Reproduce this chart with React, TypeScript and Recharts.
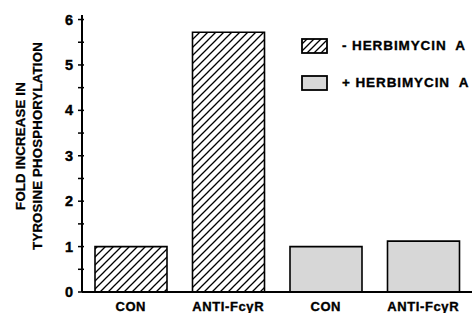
import React from 'react';
import { BarChart, Bar, XAxis, YAxis, Cell } from 'recharts';

const categories = ['CON', 'ANTI-FcγR', 'CON', 'ANTI-FcγR'];
const values = [1.0, 5.72, 1.0, 1.12];
const groupOfBar = [0, 0, 1, 1];
const groupLabels = ['- HERBIMYCIN  A', '+ HERBIMYCIN  A'];
const yTicks = [0, 0.5, 1, 1.5, 2, 2.5, 3, 3.5, 4, 4.5, 5, 5.5, 6];
const yLabelLines = ['FOLD INCREASE IN', 'TYROSINE PHOSPHORYLATION'];

const data = categories.map((c, i) => ({ id: i, name: c, value: values[i], group: groupOfBar[i] }));
const FONT = '"Liberation Sans", Arial, sans-serif';
const fills = ['url(#hatch)', '#d7d7d7'];

const YTick = (props: any) => {
  const { x, y, payload } = props;
  const v = payload.value;
  return (
    <g>
      <line x1={x + 4} x2={x + 10} y1={y} y2={y} stroke="#000" strokeWidth={1.5} />
      {Number.isInteger(v) ? (
        <text x={x - 1} y={y} dy={5} textAnchor="end" fontFamily={FONT} fontWeight="bold" fontSize={14.5}
          stroke="#000" strokeWidth={0.4} fill="#000">{v}</text>
      ) : null}
    </g>
  );
};

const XTick = (props: any) => {
  const { x, y, payload } = props;
  return (
    <text x={x} y={y} dy={11} textAnchor="middle" fontFamily={FONT} fontWeight="bold" fontSize={13}
      letterSpacing={0.6} stroke="#000" strokeWidth={0.35} fill="#000">{categories[payload.value]}</text>
  );
};

const YLabel = () => {
  const cy = 146;
  const xs = [20, 37];
  return (
    <g>
      {yLabelLines.map((t, i) => (
        <text key={i} x={xs[i]} y={cy} transform={`rotate(-90, ${xs[i]}, ${cy})`} textAnchor="middle" dy={4.5}
          fontFamily={FONT} fontWeight="bold" fontSize={13.2} letterSpacing={0.2} stroke="#000" strokeWidth={0.3}
          fill="#000">{t}</text>
      ))}
    </g>
  );
};

const LegendBox = () => (
  <div style={{ position: 'absolute', left: 301, top: 27, width: 172, fontFamily: FONT, fontWeight: 'bold', fontSize: 13.5, letterSpacing: 0.9, WebkitTextStroke: '0.35px #000' }}>
    {groupLabels.map((g, i) => (
      <div key={i} style={{ display: 'flex', alignItems: 'center', height: 37 }}>
        <svg width={27} height={16} style={{ marginRight: 14 }}>
          <defs>
            <pattern id="hatchL" patternUnits="userSpaceOnUse" width={7} height={7}>
              <path d="M0,7 L7,0 M-2,2 L2,-2 M5,9 L9,5" stroke="#000" strokeWidth={1.3} />
            </pattern>
          </defs>
          <rect x={1} y={1} width={25} height={14} fill={i === 0 ? 'url(#hatchL)' : '#d7d7d7'} stroke="#000" strokeWidth={1.8} />
        </svg>
        <span style={{ whiteSpace: 'pre' }}>{g}</span>
      </div>
    ))}
  </div>
);

export default function App() {
  return (
    <div style={{ position: 'absolute', left: 0, top: 0, width: 473, height: 313, background: '#fff' }}>
      <BarChart width={473} height={313} data={data} margin={{ top: 15, right: 1, bottom: 0, left: 0 }} barCategoryGap={26}>
        <defs>
          <pattern id="hatch" patternUnits="userSpaceOnUse" width={8} height={8}>
            <path d="M0,8 L8,0 M-2,2 L2,-2 M6,10 L10,6" stroke="#000" strokeWidth={1.3} />
          </pattern>
        </defs>
        <XAxis dataKey="id" type="category" axisLine={{ stroke: '#000', strokeWidth: 2 }} tickLine={false} height={21}
          tick={<XTick />} interval={0} />
        <YAxis type="number" domain={[0, 6.1]} ticks={yTicks} width={82} interval={0}
          axisLine={{ stroke: '#000', strokeWidth: 2 }} tickLine={false} tick={<YTick />}
          label={<YLabel />} />
        <Bar dataKey="value" barSize={72} stroke="#000" strokeWidth={1.6} isAnimationActive={false}>
          {data.map((d, i) => (
            <Cell key={i} fill={fills[d.group]} />
          ))}
        </Bar>
      </BarChart>
      <LegendBox />
    </div>
  );
}
